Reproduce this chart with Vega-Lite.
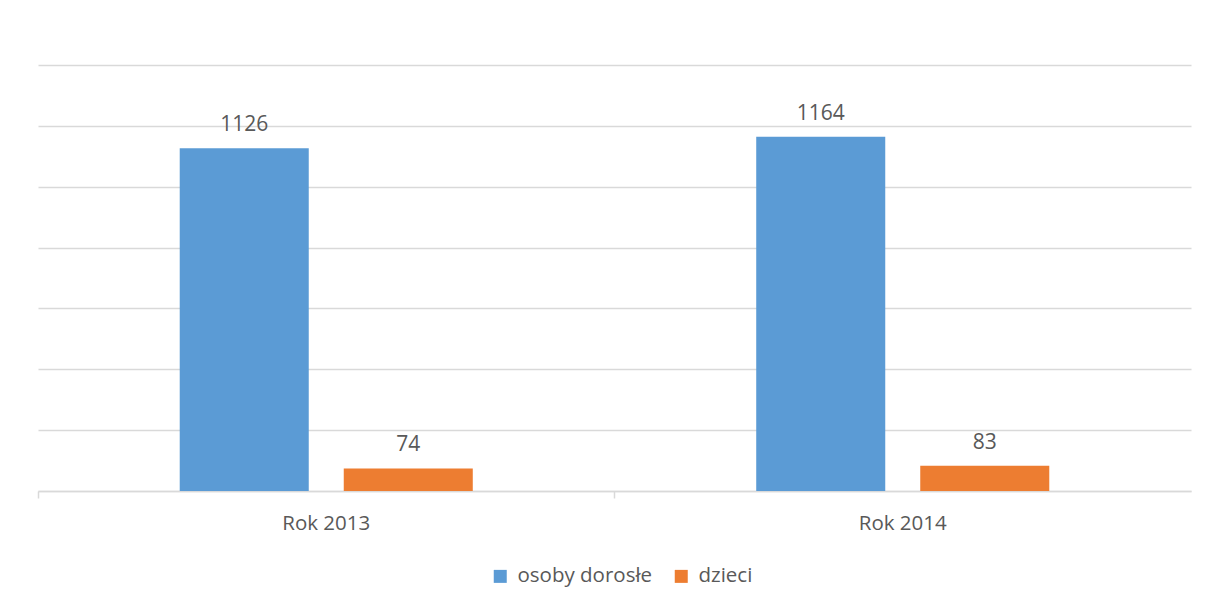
{
  "$schema": "https://vega.github.io/schema/vega-lite/v6.json",
  "width": 1153,
  "height": 426,
  "autosize": {"type": "none"},
  "padding": {"left": 38, "top": 65, "right": 17, "bottom": 118},
  "background": "white",
  "config": {
    "view": {"stroke": null},
    "font": "Open Sans",
    "axis": {"labelFont": "Open Sans", "labelColor": "#595959", "domainColor": "#d9d9d9", "gridColor": "#d9d9d9", "gridWidth": 1.5, "domainWidth": 1.5},
    "legend": {"labelFont": "Open Sans", "labelColor": "#595959"}
  },
  "data": {
    "values": [
      {"rok": "Rok 2013", "grupa": "osoby dorosłe", "liczba": 1126},
      {"rok": "Rok 2013", "grupa": "dzieci", "liczba": 74},
      {"rok": "Rok 2014", "grupa": "osoby dorosłe", "liczba": 1164},
      {"rok": "Rok 2014", "grupa": "dzieci", "liczba": 83}
    ]
  },
  "encoding": {
    "x": {
      "field": "rok", "type": "nominal", "title": null,
      "scale": {"paddingInner": 0, "paddingOuter": 0},
      "axis": {"labelAngle": 0, "labelFontSize": 20.5, "labelPadding": 15, "tickSize": 7, "tickColor": "#d9d9d9", "tickWidth": 1.5, "bandPosition": 0, "ticks": true, "labelAlign": "center"}
    },
    "xOffset": {
      "field": "grupa", "type": "nominal",
      "sort": ["osoby dorosłe", "dzieci"],
      "scale": {"paddingInner": 0.2134, "paddingOuter": 0.864}
    },
    "y": {
      "field": "liczba", "type": "quantitative", "title": null,
      "scale": {"domain": [0, 1400]},
      "axis": {"values": [0, 200, 400, 600, 800, 1000, 1200, 1400], "labels": false, "ticks": false, "domain": false, "grid": true}
    }
  },
  "layer": [
    {
      "mark": {"type": "bar"},
      "encoding": {
        "color": {
          "field": "grupa", "type": "nominal",
          "scale": {"domain": ["osoby dorosłe", "dzieci"], "range": ["#5b9bd5", "#ed7d31"]},
          "legend": {"title": null, "orient": "none", "legendX": 452, "legendY": 501, "direction": "horizontal", "symbolType": "square", "symbolSize": 169, "symbolStrokeWidth": 0, "labelFontSize": 20.5, "columnPadding": 18, "symbolOffset": 0, "labelOffset": 7}
        }
      }
    },
    {
      "mark": {"type": "text", "baseline": "alphabetic", "dy": -17, "fontSize": 21, "color": "#595959", "font": "Open Sans"},
      "encoding": {"text": {"field": "liczba", "type": "quantitative"}}
    }
  ]
}
